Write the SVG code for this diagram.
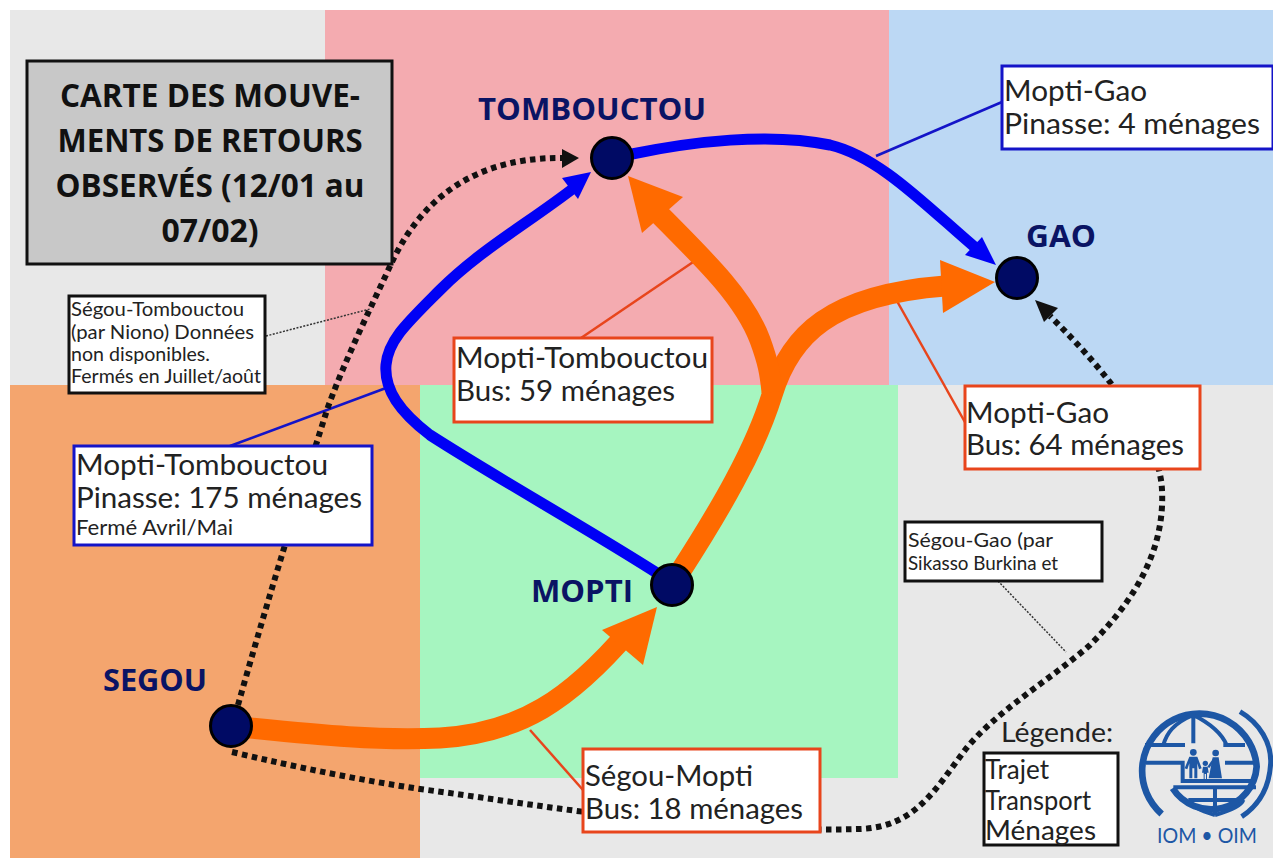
<svg xmlns="http://www.w3.org/2000/svg" width="1273" height="858" viewBox="0 0 1273 858">
<style>
.f{font-family:"Lato","Liberation Sans",sans-serif;fill:#222}
.lg{font-size:29px}
.sm{font-size:19px}
.md{font-size:21px}
.city{font-family:"Open Sans","Liberation Sans",sans-serif;font-weight:700;font-size:31px;fill:#0a1464}
.title{font-family:"Open Sans","Liberation Sans",sans-serif;font-weight:700;font-size:32px;fill:#111;text-anchor:middle}
.box{fill:#fff;stroke-width:3}
.o{stroke:#e8451c}.b{stroke:#1414c8}.k{stroke:#111}
.blue{fill:none;stroke:#0000f5;stroke-width:11}
.orange{fill:none;stroke:#ff6a00;stroke-width:21}
.dot{fill:none;stroke:#111;stroke-width:6;stroke-dasharray:5.5 4.5}
.lead{fill:none;stroke-width:2.5}
.thin{fill:none;stroke:#333;stroke-width:1.5;stroke-dasharray:2 1.5}
.node{fill:#000a64;stroke:#000;stroke-width:3}
.logo{fill:none;stroke:#1d57a5;stroke-width:12}
</style>
<rect width="1273" height="858" fill="#fff"/>
<g id="background">
<rect x="10" y="10" width="315" height="375" fill="#e8e8e8"/>
<rect x="325" y="10" width="564" height="375" fill="#f4abb0"/>
<rect x="889" y="10" width="384" height="375" fill="#bcd8f4"/>
<rect x="420" y="385" width="853" height="473" fill="#e8e8e8"/>
<rect x="10" y="385" width="410" height="473" fill="#f4a56e"/>
<rect x="420" y="385" width="478" height="393" fill="#a6f5c0"/>
</g>
<g id="connectors">
<path class="lead b" d="M230 446L386 388"/>
<path class="lead b" d="M876 156L1002 102"/>
<path class="lead o" d="M581 338L702 256"/>
<path class="lead o" d="M893 294L966 424"/>
<path class="lead o" d="M530 730L583 790"/>
<path class="thin" d="M266 336L370 309"/>
<path class="thin" d="M998 581L1066 652"/>
<path class="dot" d="M238 705C262 620 295 510 328 407C345 360 372 305 392 262C412 220 455 157 562 158"/>
<polygon points="579,158 562,149 562,168" fill="#111"/>
<path class="dot" d="M232 752C300 768 360 780 420 789C480 797 530 805 585 812C660 820 760 832 860 829C915 827 935 790 965 750C995 712 1050 680 1090 645C1135 600 1165 550 1162 490C1160 440 1110 375 1050 316"/>
<polygon points="1035,300 1058,308 1044,322" fill="#111"/>
<path class="blue" d="M660 575C590 530 500 480 430 435C400 412 384 390 386 365C388 340 408 322 440 290C480 250 530 222 575 187"/>
<polygon points="591,172 578,199 562,178" fill="#0000f5"/>
<path class="blue" d="M632 154C690 142 770 132 830 145C880 157 925 205 978 250"/>
<polygon points="996,265 965,255 982,237" fill="#0000f5"/>
<path class="orange" d="M680 572C720 510 755 450 772 395C790 335 830 295 945 286"/>
<polygon points="995,282 940,260 943,313" fill="#ff6a00"/>
<path class="orange" d="M772 392C770 372 768 362 760 340C745 300 710 265 660 215"/>
<polygon points="628,176 683,197 642,233" fill="#ff6a00"/>
<path class="orange" d="M250 728C320 735 380 741 440 738C520 733 570 700 630 630"/>
<polygon points="657,607 643,665 602,630" fill="#ff6a00"/>
</g>
<g id="title-box">
<rect x="27" y="61" width="365" height="203" fill="#c8c8c8" stroke="#111" stroke-width="3"/>
<text class="title" x="210" y="107" textLength="300" lengthAdjust="spacingAndGlyphs">CARTE DES MOUVE-</text>
<text class="title" x="210" y="152" textLength="305" lengthAdjust="spacingAndGlyphs">MENTS DE RETOURS</text>
<text class="title" x="210" y="197" textLength="309" lengthAdjust="spacingAndGlyphs">OBSERVÉS (12/01 au</text>
<text class="title" x="210" y="242">07/02)</text>
</g>
<g id="node-tombouctou"><circle class="node" cx="612" cy="158" r="20.5"/><text class="city" x="478" y="120" textLength="228" lengthAdjust="spacingAndGlyphs">TOMBOUCTOU</text></g>
<g id="node-gao"><circle class="node" cx="1017" cy="278" r="20.5"/><text class="city" x="1026" y="247" textLength="70" lengthAdjust="spacingAndGlyphs">GAO</text></g>
<g id="node-mopti"><circle class="node" cx="672" cy="585" r="20.5"/><text class="city" x="531" y="602" textLength="102" lengthAdjust="spacingAndGlyphs">MOPTI</text></g>
<g id="node-segou"><circle class="node" cx="231" cy="726" r="20.5"/><text class="city" x="103" y="691" textLength="104" lengthAdjust="spacingAndGlyphs">SEGOU</text></g>
<g id="label-segou-tombouctou">
<rect class="box k" x="69" y="296" width="196" height="97"/>
<text class="f sm" x="71" y="316" textLength="173" lengthAdjust="spacingAndGlyphs">Ségou-Tombouctou</text>
<text class="f sm" x="71" y="339" textLength="183" lengthAdjust="spacingAndGlyphs">(par Niono) Données</text>
<text class="f sm" x="71" y="361" textLength="139" lengthAdjust="spacingAndGlyphs">non disponibles.</text>
<text class="f sm" x="71" y="383" textLength="190" lengthAdjust="spacingAndGlyphs">Fermés en Juillet/août</text>
</g>
<g id="label-mopti-tombouctou-pinasse">
<rect class="box b" x="74" y="446" width="298" height="99"/>
<text class="f lg" x="76" y="475" textLength="252" lengthAdjust="spacingAndGlyphs">Mopti-Tombouctou</text>
<text class="f lg" x="76" y="508" textLength="286" lengthAdjust="spacingAndGlyphs">Pinasse: 175 ménages</text>
<text class="f md" x="76" y="535" textLength="157" lengthAdjust="spacingAndGlyphs">Fermé Avril/Mai</text>
</g>
<g id="label-mopti-tombouctou-bus">
<rect class="box o" x="454" y="338" width="258" height="84"/>
<text class="f lg" x="456" y="368" textLength="252" lengthAdjust="spacingAndGlyphs">Mopti-Tombouctou</text>
<text class="f lg" x="456" y="401" textLength="219" lengthAdjust="spacingAndGlyphs">Bus: 59 ménages</text>
</g>
<g id="label-mopti-gao-pinasse">
<rect class="box b" x="1002" y="66" width="271" height="83"/>
<text class="f lg" x="1004" y="101" textLength="143" lengthAdjust="spacingAndGlyphs">Mopti-Gao</text>
<text class="f lg" x="1004" y="134" textLength="256" lengthAdjust="spacingAndGlyphs">Pinasse: 4 ménages</text>
</g>
<g id="label-mopti-gao-bus">
<rect class="box o" x="965" y="386" width="235" height="83"/>
<text class="f lg" x="966" y="423" textLength="143" lengthAdjust="spacingAndGlyphs">Mopti-Gao</text>
<text class="f lg" x="966" y="455" textLength="218" lengthAdjust="spacingAndGlyphs">Bus: 64 ménages</text>
</g>
<g id="label-segou-mopti">
<rect class="box o" x="583" y="749" width="237" height="83"/>
<text class="f lg" x="585" y="786" textLength="168" lengthAdjust="spacingAndGlyphs">Ségou-Mopti</text>
<text class="f lg" x="585" y="819" textLength="218" lengthAdjust="spacingAndGlyphs">Bus: 18 ménages</text>
</g>
<g id="label-segou-gao">
<rect class="box k" x="905" y="522" width="197" height="59"/>
<text class="f sm" x="908" y="547" textLength="145" lengthAdjust="spacingAndGlyphs">Ségou-Gao (par</text>
<text class="f sm" x="908" y="570" textLength="150" lengthAdjust="spacingAndGlyphs">Sikasso Burkina et</text>
</g>
<g id="legend">
<text class="f" font-size="27" x="1001" y="742" textLength="112" lengthAdjust="spacingAndGlyphs">Légende:</text>
<rect class="box k" x="984" y="753" width="134" height="92"/>
<text class="f" font-size="27" x="985" y="779" textLength="64" lengthAdjust="spacingAndGlyphs">Trajet</text>
<text class="f" font-size="27" x="985" y="810" textLength="106" lengthAdjust="spacingAndGlyphs">Transport</text>
<text class="f" font-size="27" x="985" y="840" textLength="111" lengthAdjust="spacingAndGlyphs">Ménages</text>
</g>
<g id="logo">
<g transform="translate(1130 700) scale(0.3333)">
<path class="logo" style="stroke-width:20" d="M95 342A172 172 0 1 1 380 200A137 137 0 0 1 128 265"/>
<path class="logo" style="stroke-width:15" d="M330 35C390 70 425 130 422 190C418 270 380 320 335 350"/>
<path class="logo" d="M190 45V130M255 262V342M45 135H165M280 135H345M48 188H95M285 188H375M95 188H158V243H375M130 262H378M175 300H340M190 45C130 70 110 100 100 135M190 45C240 70 275 100 290 135M255 345C200 330 180 315 175 300M255 345C310 330 335 315 340 300"/>
<g fill="#1d57a5">
<circle cx="190" cy="157" r="10"/>
<path d="M178 170H202L215 205L207 208L202 190V235H193V205H187V235H178V190L172 208L164 205Z"/>
<circle cx="257" cy="159" r="10"/>
<path d="M248 172H266L276 235H236Z"/>
<path d="M250 175L232 200L238 204L252 185Z"/>
<circle cx="226" cy="190" r="8"/>
<path d="M219 200H233L236 218H231V238H228V222H224V238H221V218H216Z"/>
</g>
</g>
<text x="1157" y="843" font-family="Lato,'Liberation Sans',sans-serif" font-size="21" fill="#1d57a5" textLength="100" lengthAdjust="spacingAndGlyphs">IOM • OIM</text>
</g>
</svg>
